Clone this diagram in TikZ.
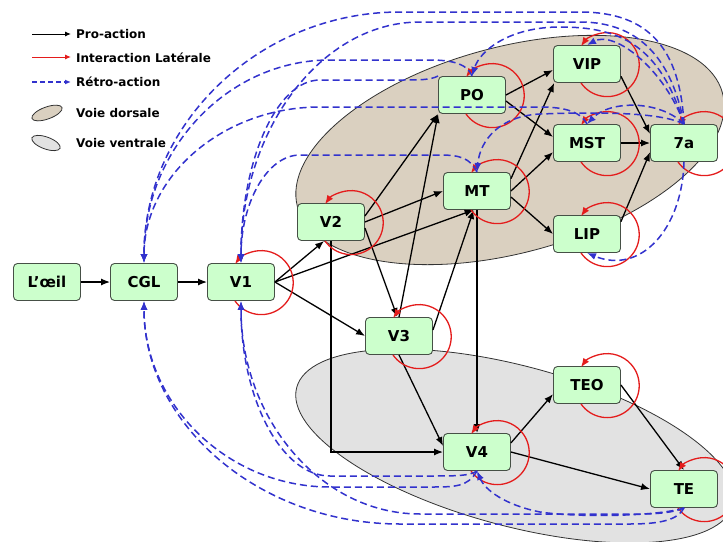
\documentclass[tikz,border=0pt]{standalone}
\usepackage{fontspec}
\setmainfont{DejaVu Sans}
\usetikzlibrary{arrows.meta,calc}
\definecolor{boxfill}{RGB}{204,255,204}
\definecolor{boxline}{RGB}{70,80,70}
\definecolor{dorsalfill}{RGB}{218,208,192}
\definecolor{ventralfill}{RGB}{226,226,226}
\definecolor{fbblue}{RGB}{50,50,205}
\definecolor{latred}{RGB}{228,28,28}
\tikzset{
  area/.style={draw=black!80, line width=0.8pt},
  box/.style={draw=boxline, fill=boxfill, rounded corners=4pt, line width=0.9pt,
    minimum width=67pt, minimum height=37pt, inner sep=0pt,
    font=\fontsize{15}{15}\selectfont\bfseries},
  ff/.style={line width=1.3pt, -{Latex[length=9pt,width=7pt]}},
  lat/.style={latred, line width=1.3pt, -{Latex[length=9pt,width=7pt]}},
  fb/.style={fbblue, line width=1.5pt, dash pattern=on 7pt off 4pt, -{Latex[length=9pt,width=7pt]}},
  legtext/.style={anchor=west, inner sep=0pt, font=\fontsize{12}{12}\selectfont\bfseries},
}
\newcommand\selfloop[1]{\draw[lat] ($(#1.south)+(-6,0)$) arc[start angle=145, end angle=-145, radius=32];}
\begin{document}
\begin{tikzpicture}[x=1pt,y=-1pt]
\useasboundingbox (0,0) rectangle (723,541);
% areas
\draw[area, fill=dorsalfill, rotate around={15:(510,150)}] (510,150) ellipse [x radius=220, y radius=103];
\draw[area, fill=ventralfill, rotate around={-15:(515,446)}] (515,446) ellipse [x radius=226, y radius=80];
% legend
\coordinate (p1a) at (32,34); \coordinate (p1b) at (71,34);
\coordinate (p2a) at (32,57); \coordinate (p2b) at (71,57);
\coordinate (p3a) at (32,82); \coordinate (p3b) at (71,82);
\draw[line width=1pt, -{Latex[length=6pt,width=5pt]}] (p1a) -- (p1b);
\draw[latred, line width=1pt, -{Latex[length=6pt,width=5pt]}] (p2a) -- (p2b);
\draw[fbblue, line width=1.2pt, dash pattern=on 5pt off 3pt, -{Latex[length=6pt,width=5pt]}] (p3a) -- (p3b);
\draw[area, fill=dorsalfill, rotate around={20:(47,113)}] (47,113) ellipse [x radius=16, y radius=6];
\draw[area, fill=ventralfill, rotate around={-20:(46,143)}] (46,143) ellipse [x radius=15, y radius=6];
\node[legtext] (t1) at (76,34) {Pro-action};
\node[legtext] (t2) at (76,58) {Interaction Latérale};
\node[legtext] (t3) at (76,82) {Rétro-action};
\node[legtext] (t4) at (76,113) {Voie dorsale};
\node[legtext] (t5) at (76,143) {Voie ventrale};
% nodes
\node[box] (eye) at (47,282) {L'œil};
\node[box] (CGL) at (144,282) {CGL};
\node[box] (V1) at (241,282) {V1};
\node[box] (V2) at (331,222) {V2};
\node[box] (PO) at (472,95) {PO};
\node[box] (MT) at (477,191) {MT};
\node[box] (VIP) at (587,64) {VIP};
\node[box] (MST) at (587,143) {MST};
\node[box] (A7) at (684,143) {7a};
\node[box] (LIP) at (587,234) {LIP};
\node[box] (V3) at (399,336) {V3};
\node[box] (TEO) at (587,385) {TEO};
\node[box] (V4) at (477,452) {V4};
\node[box] (TE) at (684,489) {TE};
% pro-action
\draw[ff] (eye) -- (CGL);
\draw[ff] (CGL) -- (V1);
\draw[ff] (V1.east) -- (V2.-110);
\draw[ff] (V1.east) -- (MT.-100);
\draw[ff] (V1.east) -- (V3.west);
\draw[ff] (V2.east) -- (MT.west);
\draw[ff] (V2.10) -- (PO.south west);
\draw[ff] (V3.north) -- (PO.south west);
\draw[ff] (V2.-10) -- (V3.95);
\draw[ff] (V3.10) -- (MT.-100);
\draw[ff] (MT.south) -- (V4.north);
\draw[ff] (V2.south) |- (V4.west);
\draw[ff] (V3.south) -- (V4.170);
\draw[ff] (V4.15) -- (TEO.-165);
\draw[ff] (V4.east) -- (TE.west);
\draw[ff] (TEO.east) -- (TE.north);
\draw[ff] (PO.east) -- (VIP.-170);
\draw[ff] (PO.-10) -- (MST.170);
\draw[ff] (MT.20) -- (VIP.-150);
\draw[ff] (MT.east) -- (MST.-165);
\draw[ff] (MT.-10) -- (LIP.west);
\draw[ff] (VIP.-20) -- (A7.165);
\draw[ff] (MST.east) -- (A7.west);
\draw[ff] (LIP.20) -- (A7.-165);
% lateral loops
\selfloop{V1}
\selfloop{V2}
\selfloop{PO}
\selfloop{MT}
\selfloop{VIP}
\selfloop{MST}
\selfloop{A7}
\selfloop{LIP}
\selfloop{V3}
\selfloop{TEO}
\selfloop{V4}
\selfloop{TE}
% retro-action (top)
\draw[fb] (A7.north) .. controls (680,50) and (650,12) .. (580,12) -- (400,12) .. controls (259,12) and (144,124) .. (CGL.north);
\draw[fb] (A7.north) .. controls (672,60) and (640,22) .. (580,22) -- (420,22) .. controls (321,22) and (241,130) .. (V1.north);
\draw[fb] (PO.north) .. controls (468,65) and (455,60) .. (430,60) -- (330,60) .. controls (227,60) and (144,150) .. (CGL.north);
\draw[fb] (PO.north west) .. controls (430,80) and (420,80) .. (400,80) -- (320,80) .. controls (276,80) and (241,162) .. (V1.north);
\draw[fb] (MST.north) .. controls (580,110) and (560,107) .. (540,107) -- (320,107) .. controls (223,107) and (144,176) .. (CGL.north);
\draw[fb] (MT.north) .. controls (470,158) and (460,155) .. (440,155) -- (300,155) .. controls (267,155) and (241,203) .. (V1.north);
\draw[fb] (A7.north) .. controls (665,70) and (615,30) .. (VIP.north);
\draw[fb] (A7.north) .. controls (660,45) and (620,27) .. (560,27) .. controls (510,27) and (480,50) .. (PO.north);
\draw[fb] (A7.north) .. controls (660,100) and (610,100) .. (MST.north);
\draw[fb] (A7.north) .. controls (660,112) and (600,112) .. (540,114) .. controls (500,116) and (480,140) .. (MT.north);
\draw[fb] (A7.south) .. controls (682,230) and (640,275) .. (LIP.south);
% retro-action (bottom)
\draw[fb] (TE.south) .. controls (660,516) and (580,518) .. (540,512) .. controls (505,505) and (485,490) .. (V4.south);
\draw[fb] (TE.south) .. controls (675,512) and (660,514) .. (640,514) -- (420,514) .. controls (321,514) and (241,419) .. (V1.south);
\draw[fb] (TE.south) .. controls (678,520) and (660,524) .. (630,524) -- (400,524) .. controls (259,524) and (144,424) .. (CGL.south);
\draw[fb] (V4.south) .. controls (470,476) and (455,476) .. (430,476) -- (330,476) .. controls (281,476) and (241,398) .. (V1.south);
\draw[fb] (V4.south) .. controls (468,487) and (455,487) .. (430,487) -- (330,487) .. controls (227,487) and (144,404) .. (CGL.south);
\end{tikzpicture}
\end{document}
